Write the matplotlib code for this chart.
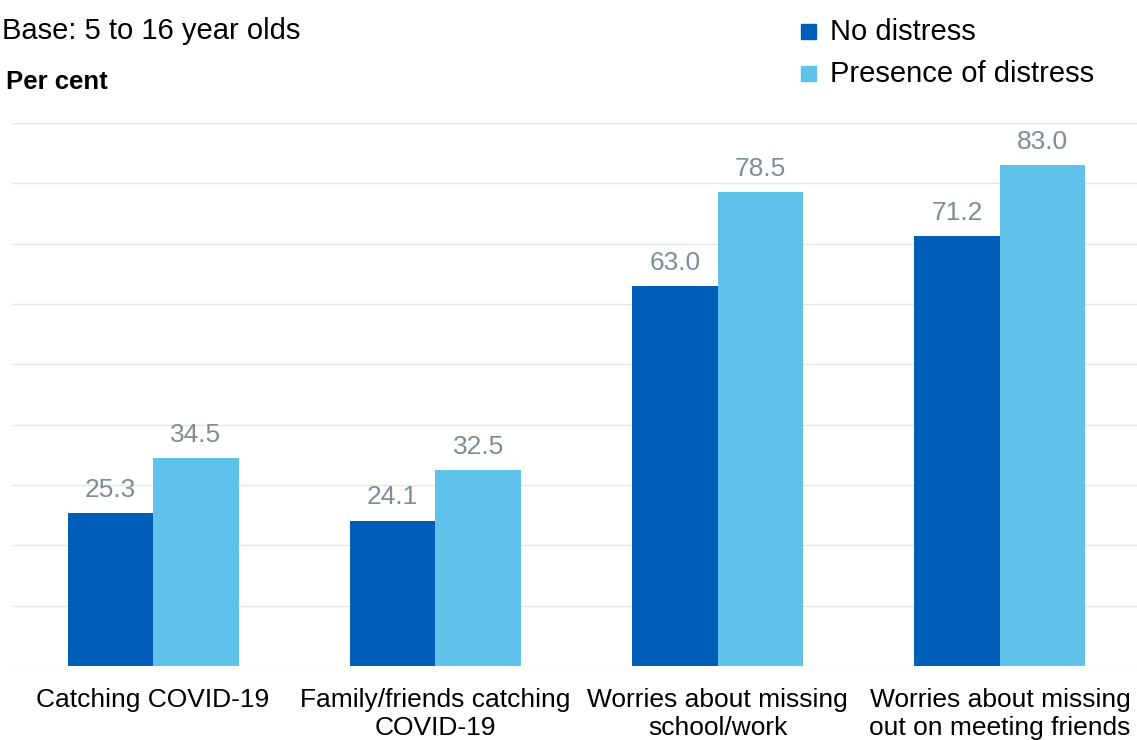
import numpy as np
import matplotlib.pyplot as plt
from matplotlib.patches import Rectangle

plt.rcParams['font.family'] = ['Liberation Sans', 'DejaVu Sans']

categories = ['Catching COVID-19', 'Family/friends catching\nCOVID-19',
              'Worries about missing\nschool/work', 'Worries about missing\nout on meeting friends']
no_distress = [25.3, 24.1, 63.0, 71.2]
presence_distress = [34.5, 32.5, 78.5, 83.0]
series_names = ['No distress', 'Presence of distress']
colours = ['#005EB8', '#5FC2EA']

fig = plt.figure(figsize=(11.37, 7.40), dpi=100)
ax = fig.add_axes([12/1137, 0.1, 1129/1137, (666-123)/740])

x = np.arange(len(categories))
w = 0.303
for i, (vals, col) in enumerate(zip([no_distress, presence_distress], colours)):
    pos = x + (i - 0.5) * w
    bars = ax.bar(pos, vals, width=w, color=col, zorder=3)
    for b, v in zip(bars, vals):
        ax.annotate('%.1f' % v, (b.get_x() + b.get_width()/2, v), xytext=(0, 8),
                    textcoords='offset points', ha='center', va='bottom',
                    fontsize=19, color='#7f8c99')

ax.set_xlim(-0.5, 3.5)
ax.set_ylim(0, 90)
ax.set_yticks(np.arange(0, 91, 10))
ax.yaxis.grid(True, color='#e6e6e6', linewidth=1, zorder=0)
ax.tick_params(axis='y', left=False, labelleft=False)
ax.tick_params(axis='x', bottom=False, labelsize=19, pad=12)
ax.set_xticks(x)
ax.set_xticklabels(categories, linespacing=1.25)
for s in ax.spines.values():
    s.set_visible(False)

fig.text(2/1137, 1 - 31/740, 'Base: 5 to 16 year olds', fontsize=21, va='center', ha='left')
fig.text(6/1137, 1 - 82/740, 'Per cent', fontsize=18.5, fontweight='bold', va='center', ha='left')

# legend
for j, (name, col) in enumerate(zip(series_names, colours)):
    yc = 31 + j * 42
    fig.patches.append(Rectangle((801/1137, 1 - (yc + 8)/740), 15/1137, 15/740,
                                 transform=fig.transFigure, color=col))
    fig.text(830/1137, 1 - (yc + 1)/740, name, fontsize=21, va='center', ha='left')

fig.savefig('out.png', dpi=100)
